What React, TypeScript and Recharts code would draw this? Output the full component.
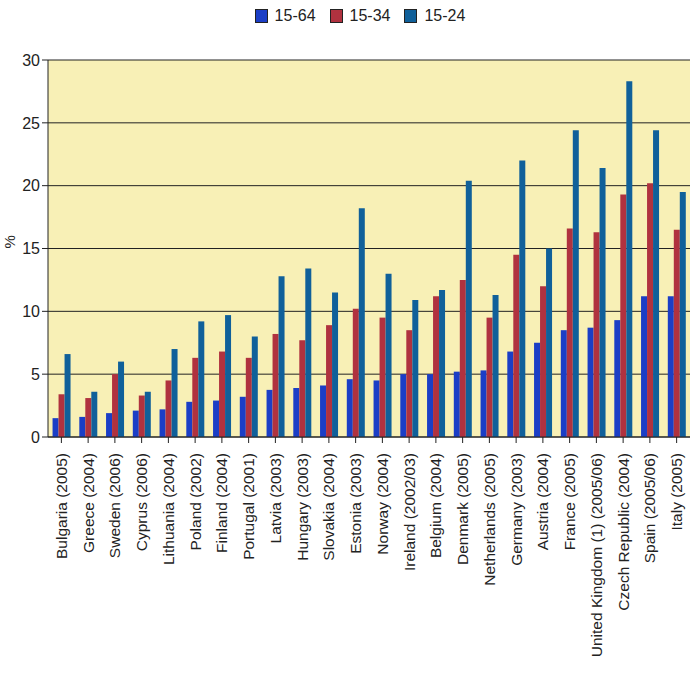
import React from "react";
import {
  BarChart,
  Bar,
  XAxis,
  YAxis,
  CartesianGrid,
  Legend,
} from "recharts";

const countries = [
  "Bulgaria (2005)",
  "Greece (2004)",
  "Sweden (2006)",
  "Cyprus (2006)",
  "Lithuania (2004)",
  "Poland (2002)",
  "Finland (2004)",
  "Portugal (2001)",
  "Latvia (2003)",
  "Hungary (2003)",
  "Slovakia (2004)",
  "Estonia (2003)",
  "Norway (2004)",
  "Ireland (2002/03)",
  "Belgium (2004)",
  "Denmark (2005)",
  "Netherlands (2005)",
  "Germany (2003)",
  "Austria (2004)",
  "France (2005)",
  "United Kingdom (1) (2005/06)",
  "Czech Republic (2004)",
  "Spain (2005/06)",
  "Italy (2005)",
];

const age1564 = [1.5, 1.6, 1.9, 2.1, 2.2, 2.8, 2.9, 3.2, 3.75, 3.9, 4.1, 4.6, 4.5, 5.0, 5.0, 5.2, 5.3, 6.8, 7.5, 8.5, 8.7, 9.3, 11.2, 11.2];
const age1534 = [3.4, 3.1, 5.0, 3.3, 4.5, 6.3, 6.8, 6.3, 8.2, 7.7, 8.9, 10.2, 9.5, 8.5, 11.2, 12.5, 9.5, 14.5, 12.0, 16.6, 16.3, 19.3, 20.2, 16.5];
const age1524 = [6.6, 3.6, 6.0, 3.6, 7.0, 9.2, 9.7, 8.0, 12.8, 13.4, 11.5, 18.2, 13.0, 10.9, 11.7, 20.4, 11.3, 22.0, 15.0, 24.4, 21.4, 28.3, 24.4, 19.5];

const yTicks = [0, 5, 10, 15, 20, 25, 30];

const series = [
  { key: "s1564", name: "15-64", color: "#1b3ec6" },
  { key: "s1534", name: "15-34", color: "#b0323f" },
  { key: "s1524", name: "15-24", color: "#10609a" },
];

const data = countries.map((c, i) => ({
  country: c,
  s1564: age1564[i],
  s1534: age1534[i],
  s1524: age1524[i],
}));

const font = "'Liberation Sans', Arial, sans-serif";

function LegendBox() {
  return (
    <div
      style={{
        display: "flex",
        justifyContent: "center",
        gap: 14,
        height: 24,
        paddingLeft: 30,
        fontFamily: font,
        fontSize: 16,
        color: "#222",
      }}
    >
      {series.map((s) => (
        <span key={s.key} style={{ display: "flex", alignItems: "center", gap: 7 }}>
          <span
            style={{
              width: 11,
              height: 12,
              background: s.color,
              border: "1px solid #222",
              display: "inline-block",
            }}
          />
          {s.name}
        </span>
      ))}
    </div>
  );
}

function XTick(props: any) {
  const { x, y, payload } = props;
  return (
    <text
      x={x}
      y={y + 8}
      transform={`rotate(-90 ${x} ${y + 8})`}
      textAnchor="end"
      dominantBaseline="central"
      fontSize={15.5}
      fontFamily={font}
      fill="#222"
    >
      {payload.value}
    </text>
  );
}

export default function App() {
  return (
    <div style={{ position: "absolute", left: 0, top: 0, background: "#fff" }}>
      <BarChart
        width={700}
        height={676}
        data={data}
        margin={{ top: 36, right: 10, bottom: 5, left: 0 }}
        barCategoryGap="17%"
        barGap={0}
      >
        <CartesianGrid
          horizontal
          vertical={false}
          stroke="#222"
          fill="#f8f0b6"
          fillOpacity={1}
        />
        <Legend
          verticalAlign="top"
          align="center"
          content={() => <LegendBox />}
          wrapperStyle={{ top: 4 }}
        />
        <XAxis
          dataKey="country"
          interval={0}
          height={234}
          tick={<XTick />}
          tickLine={{ stroke: "#222" }}
          tickSize={6}
          axisLine={{ stroke: "#222" }}
        />
        <YAxis
          domain={[0, 30]}
          ticks={yTicks}
          width={48}
          tick={{ fontSize: 16, fill: "#222", fontFamily: font }}
          tickLine={{ stroke: "#222" }}
          tickSize={6}
          axisLine={{ stroke: "#222" }}
          label={{
            value: "%",
            angle: -90,
            position: "insideLeft",
            offset: 10,
            fontSize: 15,
            fill: "#222",
            fontFamily: font,
          }}
        />
        {series.map((s) => (
          <Bar
            key={s.key}
            dataKey={s.key}
            name={s.name}
            fill={s.color}
            isAnimationActive={false}
          />
        ))}
      </BarChart>
    </div>
  );
}
